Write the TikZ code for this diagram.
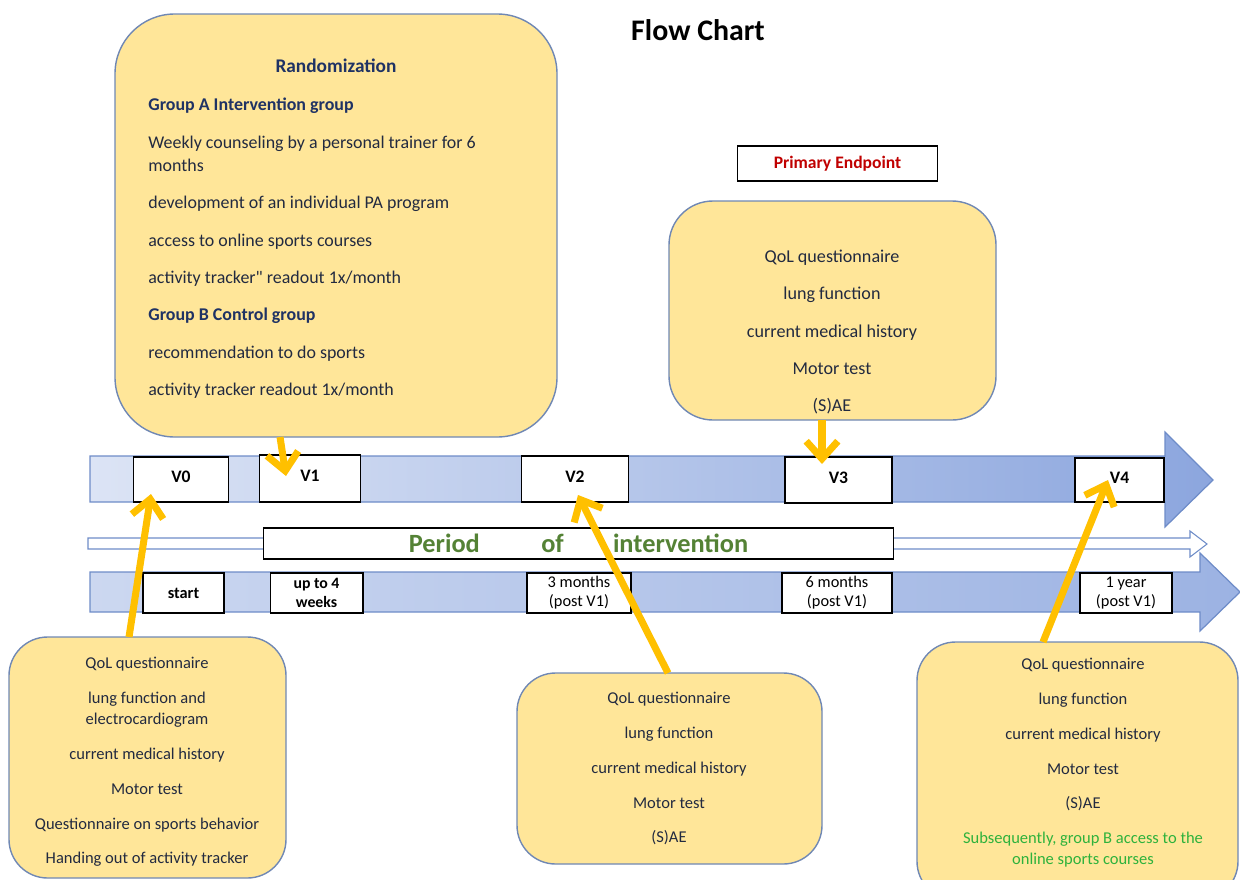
\documentclass[tikz,border=0pt]{standalone}
\usepackage{fontspec}
\setmainfont{Carlito}
\newfontfamily\rawquote{Carlito}[Ligatures=TeXOff]
\usetikzlibrary{arrows.meta,positioning,fit,calc}
\definecolor{boxyellow}{RGB}{255,230,153}
\definecolor{boxline}{RGB}{112,136,180}
\definecolor{textnavy}{RGB}{34,42,64}
\definecolor{headnavy}{RGB}{31,50,100}
\definecolor{arrowgold}{RGB}{255,192,0}
\definecolor{barline}{RGB}{110,140,200}
\definecolor{barleft}{RGB}{220,228,245}
\definecolor{barright}{RGB}{140,166,222}
\definecolor{periodgreen}{RGB}{84,130,53}
\definecolor{notegreen}{RGB}{46,178,60}
\definecolor{endred}{RGB}{192,0,0}
\tikzset{
    yellowbox/.style={
        draw=boxline,
        line width=0.8pt,
        fill=boxyellow,
        rounded corners=#1,
        inner sep=0pt
    },
    yellowbox/.default=22pt,
    % visits on the upper bar, times on the lower bar
    visitbox/.style={
        draw=black,
        line width=0.8pt,
        fill=white,
        inner sep=0pt,
        text depth=3pt,
        font=\bfseries\fontsize{10}{12}\selectfont
    },
    timebox/.style={
        draw=black,
        line width=0.8pt,
        fill=white,
        inner sep=0pt,
        minimum height=22.7pt,
        align=center,
        font=\fontsize{9.3}{10.8}\selectfont
    },
    listtext/.style={
        text=textnavy,
        align=center,
        inner sep=0pt,
        font=\fontsize{9.4}{12}\selectfont
    },
    bararrow/.style={
        draw=barline,
        line width=0.7pt
    },
    goldarrow/.style={
        line width=4pt,
        arrowgold,
        -{Straight Barb[length=10pt, width=18pt]}
    }
}

\begin{document}
\begin{tikzpicture}[>=stealth, x=0.02cm, y=-0.02cm]
        \useasboundingbox (0,0) rectangle (1240,879);

        % the two timeline bars and the thin one between them
        \path[bararrow, left color=barleft, right color=barright]
        (90,456) -- (1165,456) -- (1165,432) -- (1213,480) -- (1165,527) -- (1165,502) -- (90,502) -- cycle;
        \path[bararrow, fill=white, line width=0.6pt]
        (88,538) -- (1190,538) -- (1190,531) -- (1207,544) -- (1190,557) -- (1190,549) -- (88,549) -- cycle;
        \path[bararrow, left color=barleft!80!barright, right color=barright!80!barleft]
        (90,572) -- (1200,572) -- (1200,553) -- (1240,592) -- (1200,631) -- (1200,612) -- (90,612) -- cycle;

        \node[font=\bfseries\fontsize{17}{20}\selectfont] (charttitle) at (698,30) {Flow Chart};

        \node[yellowbox=34pt, fit={(115,14) (557,437)}] (rand) {};
        \node[anchor=base, text=headnavy, font=\bfseries\fontsize{11}{13}\selectfont] (randtitle) at (336,72) {Randomization};
        \node[listtext, anchor=north west, align=left, font=\fontsize{10.2}{13}\selectfont] (randlist) at (148,98)
        {\textcolor{headnavy}{\bfseries Group A Intervention group}\\[8.3pt]
         Weekly counseling by a personal trainer for 6\\
         months\\[8.3pt]
         development of an individual PA program\\[8.3pt]
         access to online sports courses\\[8.3pt]
         activity tracker{\rawquote"} readout 1x/month\\[8.3pt]
         \textcolor{headnavy}{\bfseries Group B Control group}\\[8.3pt]
         recommendation to do sports\\[8.3pt]
         activity tracker readout 1x/month};

        \node[draw=black, fill=white, line width=0.8pt, minimum width=114pt, minimum height=19.8pt, text=endred,
              font=\bfseries\fontsize{10}{12}\selectfont] (primary) at (837.5,163.5) {Primary Endpoint};

        \node[yellowbox=25pt, fit={(669,201) (996,420)}] (v3box) {};
        \node[listtext, anchor=north, font=\fontsize{10.3}{13}\selectfont] (v3list) at (832,250)
        {QoL questionnaire\\[8.1pt] lung function\\[8.1pt] current medical history\\[8.1pt] Motor test\\[8.1pt] (S)AE};

        \node[visitbox, minimum width=54.4pt, minimum height=25.5pt] (v0) at (181,479.5) {V0};
        \node[visitbox, minimum width=57.8pt, minimum height=26.6pt] (v1) at (310,478.5) {V1};
        \node[visitbox, minimum width=61.2pt, minimum height=26.1pt] (v2) at (575,479) {V2};
        \node[visitbox, minimum width=60.7pt, minimum height=26.1pt] (v3) at (838.5,480) {V3};
        \node[visitbox, minimum width=50.5pt, minimum height=24.9pt] (v4) at (1119.5,480) {V4};

        \node[draw=black, fill=white, line width=0.7pt, minimum width=358.8pt, minimum height=17.6pt, inner sep=0pt,
              text=periodgreen, font=\bfseries\fontsize{15}{17}\selectfont] (period) at (578.5,543.5)
        {Period\hspace{35pt}of\hspace{28pt}intervention};

        \node[timebox, minimum width=45.9pt, font=\bfseries\fontsize{9.3}{10.8}\selectfont] (tstart) at (183.5,593) {start};
        \node[timebox, minimum width=52.7pt, font=\bfseries\fontsize{9}{10.8}\selectfont] (tweeks) at (316.5,593) {up to 4\\weeks};
        \node[timebox, minimum width=59pt] (tthree) at (579,593) {3 months\\(post V1)};
        \node[timebox, minimum width=62.4pt] (tsix) at (837,593) {6 months\\(post V1)};
        \node[timebox, minimum width=52.2pt] (tyear) at (1126,593) {1 year\\(post V1)};

        \node[yellowbox, fit={(9,637) (286,878)}] (base) {};
        \node[listtext, anchor=north] (baselist) at (147,657)
        {QoL questionnaire\\[7.8pt] lung function and\\ electrocardiogram\\[7.8pt] current medical history\\[7.8pt]
         Motor test\\[7.8pt] Questionnaire on sports behavior\\[7.8pt] Handing out of activity tracker};

        \node[yellowbox, fit={(517,673) (822,864)}] (three) {};
        \node[listtext, anchor=north] (threelist) at (669,692)
        {QoL questionnaire\\[7.8pt] lung function\\[7.8pt] current medical history\\[7.8pt] Motor test\\[7.8pt] (S)AE};

        \node[yellowbox, fit={(917,642) (1238,900)}] (year) {};
        \node[listtext, anchor=north] (yearlist) at (1083,658)
        {QoL questionnaire\\[7.8pt] lung function\\[7.8pt] current medical history\\[7.8pt] Motor test\\[7.8pt] (S)AE\\[7.8pt]
         \textcolor{notegreen}{Subsequently, group B access to the}\\ \textcolor{notegreen}{online sports courses}};

        % arrows
        \coordinate (s0) at (129,637);
        \coordinate (e0) at (151,494);
        \coordinate (s1) at (280,437);
        \coordinate (e1) at (286,476);
        \coordinate (s2) at (668,673);
        \coordinate (e2) at (578,495);
        \coordinate (s3) at (822,420);
        \coordinate (e3) at (822,464);
        \coordinate (s4) at (1043,642);
        \coordinate (e4) at (1108,480);
        \draw[goldarrow] (s0) -- (e0);
        \draw[goldarrow] (s1) -- (e1);
        \draw[goldarrow] (s2) -- (e2);
        \draw[goldarrow] (s3) -- (e3);
        \draw[goldarrow] (s4) -- (e4);
\end{tikzpicture}
\end{document}
